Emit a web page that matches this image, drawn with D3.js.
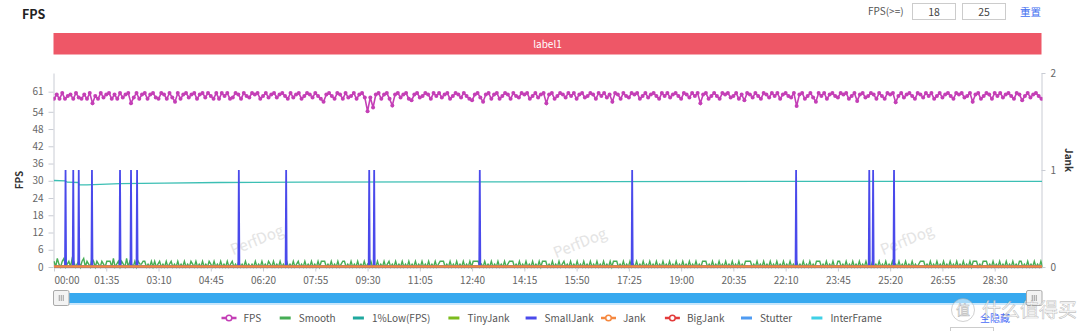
<!DOCTYPE html>
<html><head><meta charset="utf-8">
<script src="https://cdn.jsdelivr.net/npm/d3@7"></script>
<style>
html,body{margin:0;padding:0;background:#fff;}
svg{display:block;font-family:"Noto Sans CJK SC","Noto Sans",sans-serif;}
</style></head><body>
<svg id="chart" width="1080" height="331"></svg>
<script>
// ---------------- DATA ----------------
const durationSec = 1796;
const fpsStepSec = 5;
const fpsValues = [
58.5,60,58.5,60.5,58.5,59.5,60,58.5,60.5,59,58.5,60,58.5,60.5,57,59.5,58.5,60.5,59,60,
60.5,58.5,60,58.5,60.5,59,60,60.5,57,59,60.5,58.5,60,60.5,58.5,60,60.5,59,58.5,60.5,
60,58.5,60.5,59,57.5,60.5,58.5,60,60.5,59,60,60.5,58.5,60,60.5,59,60.5,59.5,58.5,60.5,
58.5,60.5,59.5,60.5,58.5,59,60.5,60,58.5,60.5,59.5,59,60.5,60,60.5,58.5,59.5,60.5,59,60,
60.5,59,60,60.5,59.5,58.5,60.5,59,60,60.5,58.5,59.5,60.5,60,59,60.5,59.5,58.5,57.5,60,
60.5,59.5,58.5,60.5,60,58.5,60.5,59,59.5,60.5,58.5,60,60.5,59,54.2,59,55.5,60,60.5,58.5,
60,60.5,58.5,56.2,60,60.5,59,60,60.5,58.5,58,60,60.5,59,59.5,60.5,60,58.5,60.5,59.5,
60.5,59,60,60.5,58.5,59.5,60.5,60,59,60.5,59.5,58.5,58,60,60.5,59,57.5,60,60.5,58.5,
60,60.5,58.5,59.5,60.5,60,58.5,60.5,59.5,59,60.5,60,60.5,58.5,59.5,60.5,59,60,60.5,57,
60,60.5,58.5,59.5,60.5,60,59,60.5,59.5,60.5,58.5,60,60.5,59,59.5,60.5,60,58.5,60.5,59.5,
60.5,59,60,57.5,60.5,60,58.5,60.5,59.5,59,60.5,60,60.5,58.5,59.5,60.5,59,60,60.5,59.5,
58.5,60.5,59.5,60.5,59,60,60.5,59.5,58.5,60.5,60,59,60.5,59.5,60.5,57,60,60.5,58.5,59.5,
60.5,59.5,58.5,60.5,60,60.5,59,59.5,60.5,58.5,60,58,60.5,60,59,60.5,59.5,58.5,60.5,60,
59,60.5,59.5,60.5,58.5,60,60.5,59.5,59,60.5,56,60,60.5,58.5,59.5,60.5,59,57.5,60.5,59.5,
60.5,58.5,60,60.5,59.5,59,60.5,60,60.5,58.5,59.5,60.5,57.8,60,60.5,59,59.5,60.5,60,58.5,
60.5,59.5,58.5,60.5,60,60.5,57.3,59.5,60.5,59,60,60.5,59.5,58.5,60.5,60,59,60.5,59.5,60.5,
58.5,59.5,60.5,59,60,60.5,59.5,58.5,60.5,60,60.5,59,59.5,60.5,57.5,60,60.5,58.5,59.5,60.5,
60,58.5,60.5,59.5,60.5,59,60,60.5,59.5,58.5,60.5,60,58,59.5,60.5,59,60,60.5,59.5,58.5
];
const smoothStepSec = 3;
const smoothValues = [
2,0,3,1,0,2,3,0,1,2,0,3,2,0,1,2,0,2,3,0,2,1,0,3,2,0,2,1,0,2,
1,0,2,2,2,0,3,0,1,2,0,2,1,0,3,0,2,1,0,2,0,2,1,1,2,2,0,1,0,2,
0,2,0,1,2,0,1,0,2,0,1,2,0,1,0,2,0,1,0,2,0,1,0,2,1,0,2,0,1,0,
2,0,1,0,2,1,0,2,0,1,0,2,0,1,0,2,0,1,2,0,1,0,2,0,1,0,2,0,1,0,
1,0,2,0,1,0,2,0,1,0,2,1,0,2,0,1,0,2,0,1,0,2,0,1,0,2,0,1,2,0,
1,0,2,0,1,0,2,0,1,0,2,0,2,2,2,0,1,0,2,0,1,0,2,0,1,2,2,0,1,0,
2,0,1,0,2,0,1,0,2,0,1,0,2,0,1,0,2,0,1,0,2,0,1,2,0,1,0,2,0,1,
0,2,0,1,0,2,0,1,0,2,0,1,0,2,0,1,0,2,0,1,0,2,0,1,2,2,2,0,1,0,
2,0,1,0,2,0,1,0,2,0,1,0,2,0,2,2,2,2,0,1,0,2,0,1,0,2,0,1,0,2,
0,1,0,2,0,1,2,2,2,0,1,0,2,0,1,0,2,0,1,0,2,0,1,0,2,0,2,2,2,0,
1,0,2,0,1,0,2,0,1,2,0,1,0,2,0,1,0,2,0,1,0,2,0,1,0,2,0,1,0,2,
0,1,0,2,0,1,0,2,0,2,2,2,0,1,0,2,0,1,0,2,0,1,0,2,0,1,0,2,0,1,
0,2,0,1,0,2,0,1,0,2,0,1,0,2,0,1,0,2,0,1,0,2,0,1,0,2,0,1,0,2,
0,1,0,2,2,2,0,1,0,2,0,1,0,2,0,1,0,2,0,1,0,2,0,1,0,2,0,1,0,2,
2,2,2,0,1,0,2,0,1,0,2,0,1,0,2,0,1,0,2,0,1,0,2,0,1,0,2,0,1,0,
2,0,1,0,2,0,1,0,2,0,1,0,2,2,2,0,1,0,2,0,1,0,2,0,0,2,2,0,1,0,
2,0,1,0,2,0,1,0,2,0,1,0,2,0,1,0,2,0,1,0,2,0,1,0,2,0,1,0,2,0,
1,0,2,0,1,0,2,0,1,0,2,0,1,0,1,2,2,2,0,1,0,2,0,1,0,2,0,1,0,2,
0,1,0,2,0,1,0,2,0,1,0,2,0,1,0,2,0,2,2,2,0,1,0,2,2,2,0,1,0,2,
0,1,0,2,0,1,0,2,0,1,0,2,0,1,0,2,2,0,1,0,2,0,1,0,2,0,1,0,2,0
];
const lowFpsTimes  = [0, 20, 24, 44, 46, 60, 120, 200, 300, 450, 700, 1000, 1400, 1796];
const lowFpsValues = [30.1, 30.0, 29.5, 29.4, 28.6, 28.6, 29.0, 29.2, 29.4, 29.5, 29.6, 29.7, 29.8, 29.8];
const smallJankTimes = [21, 35, 45, 69, 120, 140, 151, 336, 422, 573, 582, 774, 1051, 1349, 1482, 1489, 1527];
const xTickSeconds = [0,95,190,285,380,475,570,665,760,855,950,1045,1140,1235,1330,1425,1520,1615,1710];
const leftTicks = [0,6,12,18,24,30,36,42,48,54,61];
const rightTicks = [0,1,2];
const legendNames  = ["FPS","Smooth","1%Low(FPS)","TinyJank","SmallJank","Jank","BigJank","Stutter","InterFrame"];
const legendColors = ["#c43fb6","#46ad55","#1fa89e","#7cbb1d","#4a4aeb","#f5883f","#e33b3b","#4f9bf2","#3fd0e6"];
const legendSymbol = [true,false,false,false,false,true,true,false,false];

// ---------------- LAYOUT ----------------
const plotL = 53.5, plotR = 1041.5, plotT = 73, plotB = 267;
const svg = d3.select('#chart');
const x  = d3.scaleLinear().domain([0, durationSec]).range([54, 1042]);
const yL = d3.scaleLinear().domain([0, 67.5]).range([plotB, plotT]);
const yR = d3.scaleLinear().domain([0, 2]).range([plotB, plotT]);
const col = n => legendColors[legendNames.indexOf(n)];

// title + controls
svg.append('text').attr('x',22).attr('y',19).text('FPS')
  .attr('font-size',12.5).attr('font-weight','bold').attr('fill','#222');
svg.append('text').attr('x',868).attr('y',15).text('FPS(>=)').attr('font-size',10).attr('fill','#555');
[[912,'18'],[962,'25']].forEach(([bx,t])=>{
  svg.append('rect').attr('x',bx+0.5).attr('y',3.5).attr('width',43).attr('height',16)
    .attr('fill','#fff').attr('stroke','#ccc');
  svg.append('text').attr('x',bx+22).attr('y',15.5).attr('text-anchor','middle')
    .attr('font-size',10.5).attr('fill','#444').text(t);
});
svg.append('text').attr('x',1020).attr('y',15.5).text('重置').attr('font-size',10.5).attr('fill','#3f6ef0');

// label bar
svg.append('rect').attr('x',plotL).attr('y',33).attr('width',plotR-plotL).attr('height',21.5).attr('fill','#ee5767');
svg.append('text').attr('x',(plotL+plotR)/2).attr('y',44).attr('dy','0.35em').attr('text-anchor','middle')
  .attr('font-size',10).attr('fill','#fff').text('label1');

// watermarks
[[257,240],[580,243],[907,240]].forEach(([cx,cy])=>{
  svg.append('text').attr('transform',`translate(${cx},${cy}) rotate(-22)`)
    .attr('text-anchor','middle').attr('dy','0.35em').attr('font-size',15)
    .attr('fill','#e4e4e4').text('PerfDog');
});

// axes
const axStyle = g => {
  g.selectAll('.domain').attr('stroke','#c9ccd4');
  g.selectAll('.tick line').attr('stroke','#c9ccd4');
  g.selectAll('.tick text').attr('fill','#666').attr('font-size',10)
    .attr('font-family','"Noto Sans CJK SC","Noto Sans",sans-serif');
};
svg.append('g').attr('transform',`translate(${plotL},0)`)
  .call(d3.axisLeft(yL).tickValues(leftTicks).tickSize(5).tickSizeOuter(0).tickPadding(5)).call(axStyle);
svg.append('g').attr('transform',`translate(${plotR},0)`)
  .call(d3.axisRight(yR).tickValues(rightTicks).tickSize(4).tickSizeOuter(0).tickPadding(5).tickFormat(d3.format('d'))).call(axStyle);
const fmt = s => String(Math.floor(s/60)).padStart(2,'0') + ':' + String(s%60).padStart(2,'0');
const gx = svg.append('g').attr('transform',`translate(0,${plotB+0.5})`)
  .call(d3.axisBottom(x).tickValues(xTickSeconds).tickFormat(fmt).tickSize(4).tickSizeOuter(0).tickPadding(5)).call(axStyle);
gx.selectAll('.tick text').filter(d=>d===0).attr('text-anchor','start');

svg.append('text').attr('transform','translate(23,180) rotate(-90)').attr('text-anchor','middle')
  .attr('font-size',10).attr('font-weight','bold').attr('fill','#333').text('FPS');
svg.append('text').attr('transform','translate(1065,160) rotate(90)').attr('text-anchor','middle')
  .attr('font-size',10).attr('font-weight','bold').attr('fill','#333').text('Jank');

// clip
svg.append('clipPath').attr('id','clip').append('rect')
  .attr('x',plotL).attr('y',plotT-8).attr('width',plotR-plotL+1).attr('height',plotB-plotT+12);
const plot = svg.append('g').attr('clip-path','url(#clip)');

// 1%Low
const lowPts = lowFpsTimes.map((t,i)=>[t, lowFpsValues[i]]);
plot.append('path').datum(lowPts).attr('fill','none').attr('stroke','#3cbfb4').attr('stroke-width',1.3)
  .attr('d', d3.line().x(d=>x(d[0])).y(d=>yL(d[1])));

// Smooth
plot.append('path').datum(smoothValues).attr('fill','none').attr('stroke',col('Smooth')).attr('stroke-width',1.4)
  .attr('d', d3.line().x((d,i)=>x(i*smoothStepSec)).y(d=>yL(d)));

// SmallJank spikes (right axis)
const sjPts = [[0,0]];
smallJankTimes.forEach(t=>{ sjPts.push([t-1,0],[t,1],[t+1,0]); });
sjPts.push([durationSec,0]);
plot.append('path').datum(sjPts).attr('fill','none').attr('stroke',col('SmallJank')).attr('stroke-width',1.8)
  .attr('d', d3.line().x(d=>x(d[0])).y(d=>yR(d[1])));

// FPS
const fpsLine = d3.line().x((d,i)=>x(i*fpsStepSec)).y(d=>yL(d));
plot.append('path').datum(fpsValues).attr('fill','none').attr('stroke',col('FPS')).attr('stroke-width',1.6).attr('d',fpsLine);
plot.selectAll('circle.fps').data(fpsValues).join('circle').attr('class','fps')
  .attr('cx',(d,i)=>x(i*fpsStepSec)).attr('cy',d=>yL(d)).attr('r',2).attr('fill',col('FPS'));

// zero-valued jank series
['TinyJank','Stutter','InterFrame','BigJank','Jank'].forEach(n=>{
  plot.append('path').datum([[0,0],[durationSec,0]]).attr('fill','none').attr('stroke',col(n))
    .attr('stroke-width',2).attr('d', d3.line().x(d=>x(d[0])).y(d=>yR(d[1])-0.5));
});

// slider
svg.append('rect').attr('x',55).attr('y',293).attr('width',985).attr('height',10).attr('fill','#37a9ef');
svg.append('rect').attr('x',55).attr('y',303).attr('width',985).attr('height',2).attr('fill','#c8e6fb');
[53.5,1026.5].forEach(hx=>{
  svg.append('rect').attr('x',hx).attr('y',290.5).attr('width',15.5).attr('height',15).attr('rx',1.5)
    .attr('fill','#f3f3f3').attr('stroke','#aaa');
  [-2,0,2].forEach(o=>svg.append('line').attr('x1',hx+7.75+o).attr('x2',hx+7.75+o)
    .attr('y1',295).attr('y2',301).attr('stroke','#888').attr('stroke-width',0.8));
});

// legend
const legendTextX = [243.5,298.7,371.9,467.4,544.6,623,686.9,760,830.4];
const legY = 318;
legendNames.forEach((n,i)=>{
  const tx = legendTextX[i];
  const g = svg.append('g');
  if (legendSymbol[i]) {
    g.append('rect').attr('x',tx-22).attr('y',legY-1.25).attr('width',15).attr('height',2.5).attr('fill',legendColors[i]);
    g.append('circle').attr('cx',tx-14.5).attr('cy',legY).attr('r',2.8).attr('fill','#fff')
      .attr('stroke',legendColors[i]).attr('stroke-width',1.5);
  } else {
    g.append('rect').attr('x',tx-19).attr('y',legY-1.5).attr('width',11).attr('height',3).attr('fill',legendColors[i]);
  }
  g.append('text').attr('x',tx).attr('y',legY).attr('dy','0.35em').attr('font-size',10).attr('fill','#555').text(n);
});
svg.append('text').attr('x',980).attr('y',legY).attr('dy','0.35em').attr('font-size',10).attr('fill','#4a6cf7').text('全隐藏');
svg.append('rect').attr('x',950.5).attr('y',327.5).attr('width',43).attr('height',10).attr('fill','#fff').attr('stroke','#ccc');

// site watermark (bottom-right)
svg.append('circle').attr('cx',963).attr('cy',310).attr('r',11.5).attr('fill','rgba(255,255,255,0.55)')
  .attr('stroke','rgba(150,150,150,0.55)').attr('stroke-width',0.8);
svg.append('text').attr('x',963).attr('y',310).attr('dy','0.36em').attr('text-anchor','middle').attr('font-size',14)
  .attr('fill','rgba(255,255,255,0.85)').attr('stroke','rgba(140,140,140,0.6)').attr('stroke-width',0.6).text('值');
svg.append('text').attr('x',982).attr('y',310).attr('dy','0.36em').attr('font-size',19)
  .attr('fill','rgba(255,255,255,0.8)').attr('stroke','rgba(140,140,140,0.55)').attr('stroke-width',0.6).text('什么值得买');
</script>
</body></html>
